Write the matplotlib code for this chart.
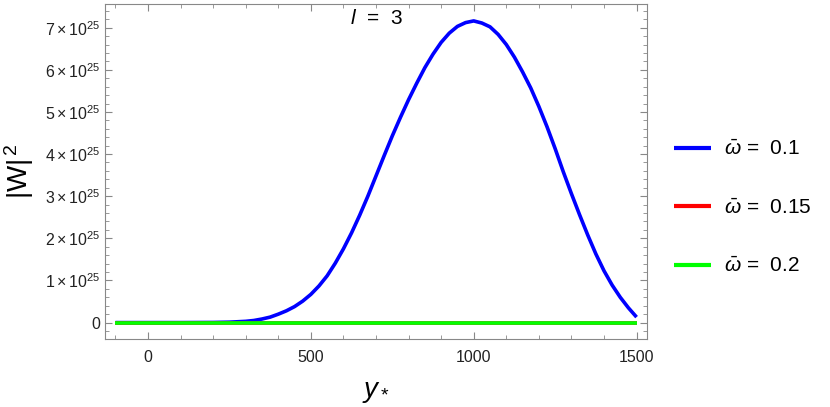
import matplotlib
matplotlib.use("Agg")
import matplotlib.pyplot as plt
from matplotlib.ticker import MultipleLocator, FixedLocator
import numpy as np

plt.rcParams['font.family'] = ['Liberation Sans', 'DejaVu Sans']
plt.rcParams['mathtext.fontset'] = 'custom'
plt.rcParams['mathtext.rm'] = 'Liberation Sans'
plt.rcParams['mathtext.it'] = 'Liberation Sans:italic'
plt.rcParams['mathtext.bf'] = 'Liberation Sans:bold'

# data (|W|^2 in units of 1e25)
ystar = [-100, 0, 100, 200, 250, 300, 325, 350, 375, 400, 425, 450, 475, 500,
         525, 550, 575, 600, 625, 650, 675, 700, 725, 750, 775, 800, 825, 850,
         875, 900, 925, 950, 975, 1000, 1025, 1050, 1075, 1100, 1125, 1150,
         1175, 1200, 1225, 1250, 1275, 1300, 1325, 1350, 1375, 1400, 1425,
         1450, 1475, 1500]
w_01 = [0, 0, 0, 0.003, 0.01, 0.03, 0.05, 0.085, 0.13, 0.2, 0.28, 0.38, 0.51,
        0.67, 0.87, 1.11, 1.41, 1.75, 2.13, 2.55, 3.0, 3.48, 3.96, 4.43, 4.87,
        5.29, 5.68, 6.05, 6.37, 6.65, 6.87, 7.03, 7.12, 7.16, 7.11, 7.02, 6.84,
        6.6, 6.3, 5.95, 5.57, 5.13, 4.65, 4.13, 3.58, 3.06, 2.56, 2.08, 1.63,
        1.23, 0.89, 0.6, 0.35, 0.13]
w_015 = [0] * len(ystar)
w_02 = [0] * len(ystar)

labels = [r'$\bar{\omega}$ =  0.1', r'$\bar{\omega}$ =  0.15', r'$\bar{\omega}$ =  0.2']
colors = ['#0000ff', '#ff0000', '#00ff00']

fig = plt.figure(figsize=(8.3, 4.07), dpi=100)
ax = fig.add_axes([0.1265, 0.167, 0.653, 0.823])

scale = 1e25
for vals, lab, c in zip([w_01, w_015, w_02], labels, colors):
    ax.plot(ystar, np.array(vals) * scale, color=c, lw=2.6, label=lab,
            solid_capstyle='butt', solid_joinstyle='round')

ax.set_xlim(-132, 1532)
ax.set_ylim(-0.39e25, 7.56e25)

ax.xaxis.set_major_locator(FixedLocator([0, 500, 1000, 1500]))
ax.xaxis.set_minor_locator(MultipleLocator(100))
ax.yaxis.set_major_locator(FixedLocator([i * 1e25 for i in range(8)]))
ax.yaxis.set_minor_locator(MultipleLocator(0.2e25))
ax.set_yticklabels(['0'] + [r'$%d\times10^{25}$' % i for i in range(1, 8)])

for s in ax.spines.values():
    s.set_color('#888888')
ax.tick_params(which='both', direction='in', top=True, right=True,
               color='#888888', labelsize=11.5, labelcolor='#222222')
ax.tick_params(which='major', length=5, width=0.8)
ax.tick_params(which='minor', length=3, width=0.6)
ax.tick_params(axis='x', pad=8)

ax.set_xlabel(r'$y_*$', fontsize=20, labelpad=10)
ax.set_ylabel(r'$|\mathrm{W}|^{\,2}$', fontsize=20, labelpad=6)
ax.text(0.5, 0.985, r'$l$  =  3', transform=ax.transAxes, ha='center',
        va='top', fontsize=15)

leg = ax.legend(loc='center left', bbox_to_anchor=(0.79, 0.49),
                bbox_transform=fig.transFigure, frameon=False, fontsize=15,
                handlelength=1.75, handletextpad=0.65, labelspacing=1.85)
for h in leg.get_lines():
    h.set_linewidth(3)

fig.savefig('out.png', dpi=100)
